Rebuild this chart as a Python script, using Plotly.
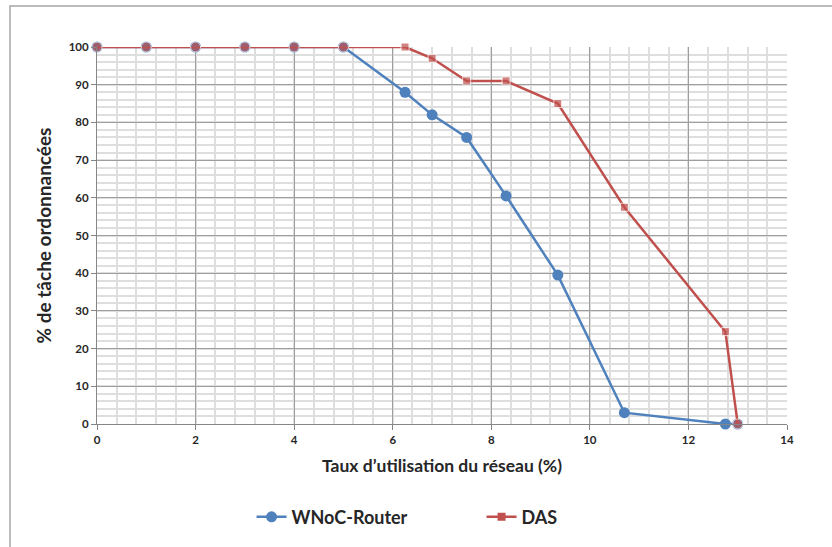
import plotly.graph_objects as go

# Data
wnoc_x = [0, 1, 2, 3, 4, 5, 6.25, 6.8, 7.5, 8.3, 9.35, 10.7, 12.75, 13]
wnoc_y = [100, 100, 100, 100, 100, 100, 88, 82, 76, 60.5, 39.5, 3, 0, 0]
das_x = [0, 1, 2, 3, 4, 5, 6.25, 6.8, 7.5, 8.3, 9.35, 10.7, 12.75, 13]
das_y = [100, 100, 100, 100, 100, 100, 100, 97, 91, 91, 85, 57.5, 24.5, 0]

x_ticks = [0, 2, 4, 6, 8, 10, 12, 14]
y_ticks = [0, 10, 20, 30, 40, 50, 60, 70, 80, 90, 100]

BLUE = "#4F81BD"
RED = "#C0504D"
FONT = "Lato"

wnoc_pts = set(zip(wnoc_x, wnoc_y))
das_symbols = ["circle" if (x, y) in wnoc_pts else "square" for x, y in zip(das_x, das_y)]
das_sizes = [10 if s == "circle" else 8 for s in das_symbols]

fig = go.Figure()
fig.add_trace(go.Scatter(
    x=wnoc_x, y=wnoc_y, name="WNoC-Router", mode="lines+markers",
    line=dict(color=BLUE, width=2.5),
    marker=dict(symbol="circle", size=11, color=BLUE),
    cliponaxis=False,
))
fig.add_trace(go.Scatter(
    x=das_x, y=das_y, name="DAS", mode="lines+markers",
    line=dict(color=RED, width=2.5),
    marker=dict(symbol=das_symbols, size=das_sizes, color=RED),
    cliponaxis=False, showlegend=False, legendgroup="das",
))
# legend entry for DAS (square marker)
fig.add_trace(go.Scatter(
    x=[None], y=[None], name="DAS", mode="lines+markers",
    line=dict(color=RED, width=2.5),
    marker=dict(symbol="square", size=8, color=RED),
    legendgroup="das", hoverinfo="skip",
))

axis_common = dict(
    showline=True, linecolor="#868686", linewidth=1,
    ticks="outside", ticklen=5, tickcolor="#868686",
    gridcolor="#9e9e9e", gridwidth=1,
    tickfont=dict(family=FONT, size=11.5, color="#262626", weight="bold"),
    zeroline=False,
)

fig.update_xaxes(
    range=[0, 14], tickvals=x_ticks, ticktext=[str(v) for v in x_ticks],
    minor=dict(dtick=0.4, tick0=0, showgrid=True, gridcolor="#dedede", gridwidth=2),
    title=dict(text="Taux d’utilisation du réseau (%)",
               font=dict(family=FONT, size=17.5, color="#262626", weight="bold"),
               standoff=14),
    **axis_common,
)
fig.update_yaxes(
    range=[0, 100], tickvals=y_ticks, ticktext=[str(v) for v in y_ticks],
    minor=dict(dtick=2, tick0=0, showgrid=True, gridcolor="#dedede", gridwidth=2),
    title=dict(text="% de tâche ordonnancées",
               font=dict(family=FONT, size=19, color="#262626", weight="bold"),
               standoff=12),
    **axis_common,
)

fig.add_shape(type="rect", xref="paper", yref="paper",
              x0=-0.1261, y0=-0.6, x1=1.3, y1=1.1088,
              line=dict(color="#a6a6a6", width=1.5), fillcolor="rgba(0,0,0,0)",
              layer="below")

fig.update_layout(
    width=832, height=547,
    margin=dict(l=97, r=45, t=47, b=123),
    paper_bgcolor="white", plot_bgcolor="white",
    showlegend=True,
    legend=dict(
        orientation="h", x=0.224, xanchor="left", y=-0.247, yanchor="middle",
        font=dict(family=FONT, size=18, color="#262626", weight="bold"),
        entrywidth=185, entrywidthmode="pixels", itemwidth=30,
        bgcolor="rgba(0,0,0,0)",
    ),
)

fig.write_html("out.html", config={"displayModeBar": False},
               post_script="document.body.style.margin='0';")
